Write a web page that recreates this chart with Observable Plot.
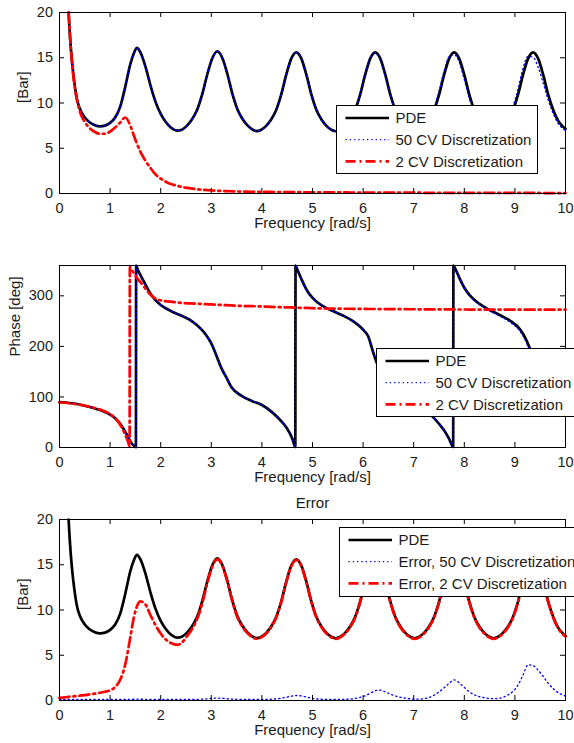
<!DOCTYPE html>
<html><head><meta charset="utf-8">
<script src="https://cdn.jsdelivr.net/npm/d3@7"></script>
<script src="https://cdn.jsdelivr.net/npm/@observablehq/plot@0.6"></script>
<style>
html,body{margin:0;padding:0;background:#fff;overflow:hidden;}
#wrap{position:relative;width:574px;height:743px;overflow:hidden;font-family:"Liberation Sans",Arial,Helvetica,sans-serif;}
.panel{position:absolute;left:0;}
.panel svg{display:block;}
</style></head><body><div id="wrap"></div>
<script>
// ---------- data ----------
const xTicks = [0,1,2,3,4,5,6,7,8,9,10];
const magTicks = [0,5,10,15,20];
const phaseTicks = [0,100,200,300];

// frequency grid for magnitude / error panels [rad/s]
const freq = [
  0,0.1,0.18,0.2,0.25,0.3,0.35,0.4,0.5,0.6,0.7,0.8,0.9,1.0,1.1,1.2,1.3,1.4,1.47,1.53,1.6,1.7,1.8,1.9,2.0,2.1,2.2,2.33,
  2.42,2.52,2.62,2.72,2.82,2.92,3.02,3.12,3.22,3.32,3.42,3.52,3.62,3.72,3.82,3.9,
  3.98,4.08,4.18,4.28,4.38,4.48,4.58,4.68,4.78,4.88,4.98,5.08,5.18,5.28,5.38,5.46,
  5.54,5.64,5.74,5.84,5.94,6.04,6.14,6.24,6.34,6.44,6.54,6.64,6.74,6.84,6.94,7.02,
  7.1,7.2,7.3,7.4,7.5,7.6,7.7,7.8,7.9,8.0,8.1,8.2,8.3,8.4,8.5,8.58,
  8.66,8.76,8.86,8.96,9.06,9.16,9.26,9.36,9.46,9.56,9.66,9.76,9.86,9.94,10
];
// PDE magnitude [Bar]
const pdeMag = [
  null,null,20,18.0,14.4,12.0,10.3,9.4,8.4,7.85,7.55,7.42,7.5,7.8,8.4,9.6,11.8,14.3,15.5,16.1,15.6,14.0,11.9,10.1,8.8,7.9,7.3,6.95,
  7.05,7.5,8.2,9.25,10.95,13.15,14.95,15.7,14.95,13.15,10.95,9.25,8.2,7.5,7.05,6.9,
  7.02,7.45,8.15,9.2,10.9,13.1,14.9,15.6,14.9,13.1,10.9,9.2,8.15,7.45,7.02,6.88,
  7.02,7.45,8.15,9.2,10.9,13.1,14.9,15.6,14.9,13.1,10.9,9.2,8.15,7.45,7.02,6.88,
  7.02,7.45,8.15,9.2,10.9,13.1,14.9,15.6,14.9,13.1,10.9,9.2,8.15,7.45,7.02,6.88,
  7.02,7.45,8.15,9.2,10.9,13.1,14.9,15.6,14.9,13.1,10.9,9.2,8.0,7.45,7.15
];
// 50 CV discretization magnitude [Bar]
const cv50Mag = [
  null,null,20,18.0,14.4,12.0,10.3,9.4,8.4,7.85,7.55,7.42,7.5,7.8,8.4,9.6,11.8,14.3,15.5,16.1,15.6,14.0,11.9,10.1,8.8,7.9,7.3,6.95,
  7.05,7.5,8.2,9.25,10.95,13.15,14.95,15.7,14.95,13.15,10.95,9.25,8.2,7.5,7.05,6.9,
  7.02,7.45,8.15,9.2,10.9,13.1,14.9,15.6,14.9,13.1,10.9,9.2,8.15,7.45,7.02,6.88,
  7.02,7.45,8.15,9.25,11.0,13.25,14.95,15.5,14.8,12.95,10.8,9.15,8.1,7.45,7.02,6.86,
  7.02,7.5,8.25,9.4,11.3,13.55,15.1,15.35,14.5,12.6,10.5,9.0,8.0,7.4,7.0,6.85,
  7.05,7.55,8.35,9.6,11.5,13.85,15.15,15.05,13.95,12.2,10.3,8.8,7.7,7.2,6.95
];
// 2 CV discretization magnitude [Bar]
const cv2Mag = [
  null,null,20,18.0,14.3,11.8,10.2,9.1,7.9,7.2,6.8,6.6,6.6,6.85,7.3,7.85,8.4,7.5,6.4,5.5,4.6,3.6,2.8,2.1,1.65,1.3,1.05,0.85,
  0.72,0.62,0.54,0.47,0.42,0.37,0.33,0.3,0.28,0.26,0.24,0.22,0.21,0.2,0.19,0.18,
  0.18,0.17,0.17,0.16,0.16,0.15,0.15,0.15,0.14,0.14,0.14,0.13,0.13,0.13,0.12,0.12,
  0.12,0.12,0.11,0.11,0.11,0.11,0.1,0.1,0.1,0.1,0.1,0.09,0.09,0.09,0.09,0.09,
  0.09,0.08,0.08,0.08,0.08,0.08,0.08,0.08,0.07,0.07,0.07,0.07,0.07,0.07,0.07,0.07,
  0.07,0.06,0.06,0.06,0.06,0.06,0.06,0.06,0.06,0.05,0.05,0.05,0.05,0.05,0.05
];
// Error, 50 CV discretization [Bar]
const err50 = [
  0.12,0.12,0.12,0.12,0.12,0.12,0.12,0.12,0.12,0.12,0.12,0.12,0.12,0.12,0.12,0.12,0.12,0.13,0.14,0.15,0.14,0.13,0.12,0.12,0.12,0.12,0.12,0.12,
  0.12,0.12,0.12,0.13,0.15,0.19,0.24,0.27,0.24,0.19,0.15,0.13,0.12,0.12,0.12,0.12,
  0.12,0.12,0.14,0.18,0.25,0.36,0.48,0.55,0.5,0.38,0.26,0.18,0.14,0.12,0.12,0.12,
  0.12,0.13,0.16,0.22,0.34,0.52,0.8,1.08,1.15,0.95,0.7,0.5,0.35,0.25,0.18,0.15,
  0.15,0.2,0.33,0.58,0.95,1.4,1.9,2.28,1.95,1.45,0.95,0.62,0.42,0.3,0.22,0.2,
  0.22,0.35,0.6,1.0,1.7,2.8,3.95,3.85,3.35,2.65,1.9,1.3,0.85,0.62,0.5
];
// Error, 2 CV discretization [Bar]
const err2 = [
  0.3,0.35,0.4,0.42,0.45,0.48,0.5,0.53,0.6,0.68,0.76,0.86,0.97,1.12,1.5,2.3,4.0,7.0,9.2,10.4,10.95,10.6,9.4,8.3,7.4,6.75,6.35,6.15,
  6.4,7.1,7.9,9.0,10.7,12.95,14.8,15.6,14.85,13.05,10.85,9.15,8.1,7.42,6.97,6.82,
  6.95,7.38,8.07,9.12,10.82,13.02,14.82,15.52,14.82,13.02,10.82,9.12,8.07,7.38,6.95,6.8,
  6.95,7.38,8.07,9.12,10.82,13.02,14.82,15.52,14.82,13.02,10.82,9.12,8.07,7.38,6.95,6.8,
  6.95,7.38,8.07,9.12,10.82,13.02,14.82,15.52,14.82,13.02,10.82,9.12,8.07,7.38,6.95,6.8,
  6.95,7.38,8.07,9.12,10.82,13.02,14.82,15.52,14.82,13.02,10.82,9.12,7.92,7.38,7.07
];

// frequency grid for phase panel [rad/s]
const freqP = [
  0,0.2,0.4,0.6,0.8,1.0,1.1,1.2,1.3,1.35,1.385,1.39,1.43,1.47,1.51,1.515,
  1.55,1.6,1.7,1.8,1.9,2.0,2.2,2.4,2.6,2.8,2.9,3.0,3.1,3.2,3.3,3.4,
  3.6,3.8,4.0,4.2,4.4,4.5,4.6,4.66,4.665,4.7,4.8,4.9,5.0,5.2,5.4,5.6,
  5.8,6.0,6.1,6.2,6.3,6.4,6.5,6.7,6.9,7.1,7.3,7.5,7.6,7.7,7.78,7.785,
  7.82,7.9,8.0,8.1,8.3,8.5,8.7,8.9,9.1,9.2,9.3,9.4,9.5,9.6,9.8,10
];
// phase [deg]
const pdePhase = [
  90,88,85,80,74,65,58,47,31,22,15,14,8,3.5,0.5,360,
  351,341,322,304,291,282,270,261,251,234,222,206,182,157,138,119,
  102,92,84,70,50,37,18,1,360,352,329,309,296,280,270,261,
  250,233,220,188,160,138,124,105,93,84,68,47,34,17,1,360,
  354,336,316,302,284,272,262,251,234,218,195,166,142,126,107,95
];
const cv50Phase = [
  90,88,85,80,74,65,58,47,31,22,15,14,8,3.5,0.5,360,
  351,341,322,304,291,282,270,261,251,234,222,206,182,157,138,119,
  102,92,84,70,50,37,18,1,360,352,329,309,296,280,270,261,
  250,233,220,188,160,138,124,105,93,84,68,47,34,17,1,360,
  354,336,316,301,283,271,260,248,230,213,190,161,139,124,106,94
];
const cv2Phase = [
  89,87.5,84.5,80.5,75,66,58,45,25,13,3,357,351,345,339,338,
  333,327,314,302,294.5,291,288.5,286,285,284,283.5,283,282.5,282,281.5,281,
  280,279.5,279,278,277.5,277,277,276.5,276.5,276.5,276,276,275.5,275,274.7,274.5,
  274.3,274.1,274,274,273.9,273.8,273.7,273.6,273.5,273.4,273.3,273.2,273.2,273.1,273.1,273.1,
  273,273,273,272.9,272.9,272.8,272.8,272.8,272.7,272.7,272.7,272.7,272.7,272.7,272.7,272.7
];

// ---------- styles ----------
const FONT = '"Liberation Sans", Arial, Helvetica, sans-serif';
const ST = {
  pde:  {stroke: "#000000", strokeWidth: 2.7},
  cv50: {stroke: "#0000ff", strokeWidth: 1.3, strokeDasharray: "1.3,3"},
  cv2:  {stroke: "#ff0000", strokeWidth: 2.7, strokeDasharray: "10,4,2,4"}
};

const W = 574, ML = 59, MR = 9;

function panel({top, height, mt, mb, x, series, yDomain, yTicks, yLabel, yLabelDx, title}) {
  const fw = W - ML - MR, fh = height - mt - mb;
  const marks = [];
  for (const s of series) {
    marks.push(Plot.line(s.y, {x: x, y: s.y, curve: "monotone-x", ...s.style}));
  }
  marks.push(Plot.tickX(xTicks, {x: d => d, insetTop: fh - 5, stroke: "#000"}));
  marks.push(Plot.tickX(xTicks, {x: d => d, insetBottom: fh - 5, stroke: "#000"}));
  marks.push(Plot.tickY(yTicks, {y: d => d, insetRight: fw - 5, stroke: "#000"}));
  marks.push(Plot.tickY(yTicks, {y: d => d, insetLeft: fw - 5, stroke: "#000"}));
  marks.push(Plot.axisX(xTicks, {tickSize: 0, tickPadding: 9, label: null, tickFormat: d => String(d), fill: "#1a1a1a"}));
  marks.push(Plot.axisY(yTicks, {tickSize: 0, tickPadding: 6.5, label: null, tickFormat: d => String(d), fill: "#1a1a1a"}));
  marks.push(Plot.text(["Frequency [rad/s]"], {frameAnchor: "bottom", dy: 30, text: d => d, fontSize: 15, lineAnchor: "middle", fill: "#1a1a1a"}));
  marks.push(Plot.text([yLabel], {frameAnchor: "left", dx: yLabelDx, rotate: -90, text: d => d, fontSize: 15, lineAnchor: "middle", fill: "#1a1a1a"}));
  if (title) marks.push(Plot.text([title], {frameAnchor: "top", dy: -16, text: d => d, fontSize: 15, lineAnchor: "middle", fill: "#1a1a1a"}));
  marks.push(Plot.frame({stroke: "#000", strokeWidth: 1}));
  const svg = Plot.plot({
    width: W, height,
    marginLeft: ML, marginRight: MR, marginTop: mt, marginBottom: mb,
    x: {domain: [0, 10]},
    y: {domain: yDomain},
    style: {fontFamily: FONT, fontSize: "14.5px", background: "transparent", overflow: "visible"},
    marks
  });
  const div = document.createElement("div");
  div.className = "panel";
  div.style.top = top + "px";
  div.appendChild(svg);
  document.getElementById("wrap").appendChild(div);
}

function legend({left, top, width, height, entries}) {
  const rows = [13, 34.7, 56.3];
  const ns = "http://www.w3.org/2000/svg";
  const svg = document.createElementNS(ns, "svg");
  svg.setAttribute("width", width);
  svg.setAttribute("height", height);
  svg.style.position = "absolute";
  svg.style.left = left + "px";
  svg.style.top = top + "px";
  const rect = document.createElementNS(ns, "rect");
  Object.entries({x: 0.5, y: 0.5, width: width - 1, height: height - 1, fill: "#fff", stroke: "#000", "stroke-width": 1})
    .forEach(([k, v]) => rect.setAttribute(k, v));
  svg.appendChild(rect);
  entries.forEach((e, i) => {
    const y = rows[i];
    const ln = document.createElementNS(ns, "line");
    ln.setAttribute("x1", 9.5); ln.setAttribute("x2", 53);
    ln.setAttribute("y1", y); ln.setAttribute("y2", y);
    ln.setAttribute("stroke", e.style.stroke);
    ln.setAttribute("stroke-width", e.style.strokeWidth);
    if (e.style.strokeDasharray) ln.setAttribute("stroke-dasharray", e.style.strokeDasharray);
    svg.appendChild(ln);
    const tx = document.createElementNS(ns, "text");
    tx.setAttribute("x", 59.5); tx.setAttribute("y", y); tx.setAttribute("dy", "0.35em");
    tx.setAttribute("font-size", 15); tx.setAttribute("font-family", FONT); tx.setAttribute("fill", "#1a1a1a");
    tx.textContent = e.label;
    svg.appendChild(tx);
  });
  document.getElementById("wrap").appendChild(svg);
}

// ---------- panels ----------
panel({top: 0, height: 230, mt: 12, mb: 37, x: freq, yDomain: [0, 20], yTicks: magTicks,
  yLabel: "[Bar]", yLabelDx: -36.5,
  series: [{y: pdeMag, style: ST.pde}, {y: cv50Mag, style: ST.cv50}, {y: cv2Mag, style: ST.cv2}]});

panel({top: 230, height: 250, mt: 35, mb: 33, x: freqP, yDomain: [0, 360], yTicks: phaseTicks,
  yLabel: "Phase [deg]", yLabelDx: -44,
  series: [{y: pdePhase, style: ST.pde}, {y: cv50Phase, style: ST.cv50}, {y: cv2Phase, style: ST.cv2}]});

panel({top: 480, height: 263, mt: 39, mb: 43, x: freq, yDomain: [0, 20], yTicks: magTicks,
  yLabel: "[Bar]", yLabelDx: -36.5, title: "Error",
  series: [{y: pdeMag, style: ST.pde}, {y: err50, style: ST.cv50}, {y: err2, style: ST.cv2}]});

// ---------- legends ----------
legend({left: 336, top: 105, width: 202, height: 69, entries: [
  {label: "PDE", style: ST.pde},
  {label: "50 CV Discretization", style: ST.cv50},
  {label: "2 CV Discretization", style: ST.cv2}]});
legend({left: 376, top: 348, width: 202, height: 69, entries: [
  {label: "PDE", style: ST.pde},
  {label: "50 CV Discretization", style: ST.cv50},
  {label: "2 CV Discretization", style: ST.cv2}]});
legend({left: 339, top: 527, width: 250, height: 70, entries: [
  {label: "PDE", style: ST.pde},
  {label: "Error, 50 CV Discretization", style: ST.cv50},
  {label: "Error, 2 CV Discretization", style: ST.cv2}]});
</script></body></html>
